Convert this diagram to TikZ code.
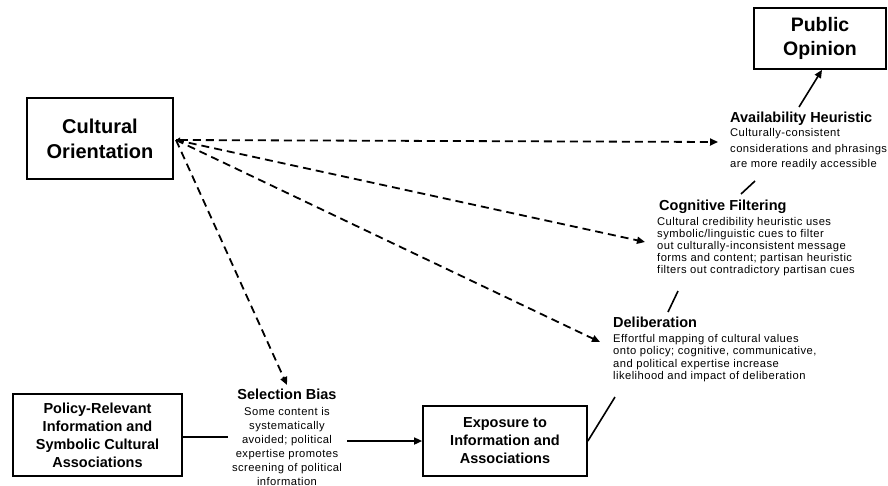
\documentclass[tikz,border=0pt]{standalone}
\usepackage{fontspec}
\setmainfont{Liberation Sans}
\newfontfamily\bodyf[LetterSpace=4]{Liberation Sans}
\usetikzlibrary{arrows.meta}
\begin{document}
\begin{tikzpicture}[x=1pt,y=-1pt,
  box/.style={draw,line width=1.7pt,inner sep=0pt,align=center},
  boxtext/.style={font=\fontsize{14.5}{18}\selectfont\bfseries},
  head/.style={inner sep=0pt,anchor=base west,font=\fontsize{14.5}{16}\selectfont\bfseries},
  bodytext/.style={inner sep=0pt,anchor=north west,align=left},
  conn/.style={line width=1.6pt},
  tip/.style={-{Triangle[length=8pt,width=7pt]}},
  dashln/.style={line width=1.8pt,dash pattern=on 8pt off 5pt,-{Triangle[length=8pt,width=7pt]}}
]
\path[use as bounding box] (0,0) rectangle (888,485);

% boxes
\node[box,minimum width=146pt,minimum height=81pt,font=\fontsize{20}{25}\selectfont\bfseries] (co) at (100,138.5) {Cultural\\Orientation};
\node[box,minimum width=132pt,minimum height=61pt,font=\fontsize{19.5}{24}\selectfont\bfseries] (po) at (820,38.5) {Public\\Opinion};
\node[box,boxtext,minimum width=169pt,minimum height=82pt] (pr) at (97.5,435) {Policy-Relevant\\Information and\\Symbolic Cultural\\Associations};
\node[box,boxtext,minimum width=164pt,minimum height=70pt] (ex) at (505,441) {Exposure to\\Information and\\Associations};

% Availability
\node[head] (avh) at (730,122) {Availability Heuristic};
\node[bodytext,font=\bodyf\fontsize{11.2}{15.5}\selectfont] (avb) at (730,128.5) {Culturally-consistent\\considerations and phrasings\\are more readily accessible};

% Cognitive filtering
\node[head] (cfh) at (659,210) {Cognitive Filtering};
\node[bodytext,font=\bodyf\fontsize{11.2}{12}\selectfont] (cfb) at (657,217.5) {Cultural credibility heuristic uses\\symbolic/linguistic cues to filter\\out culturally-inconsistent message\\forms and content; partisan heuristic\\filters out contradictory partisan cues};

% Deliberation
\node[head] (dlh) at (613,327) {Deliberation};
\node[bodytext,font=\bodyf\fontsize{11.2}{12.5}\selectfont] (dlb) at (613,334) {Effortful mapping of cultural values\\onto policy; cognitive, communicative,\\and political expertise increase\\likelihood and impact of deliberation};

% Selection bias
\node[inner sep=0pt,anchor=base,font=\fontsize{14.5}{16}\selectfont\bfseries] (sbh) at (287,399.5) {Selection Bias};
\node[inner sep=0pt,anchor=north,align=center,font=\bodyf\fontsize{11.2}{14}\selectfont] (sbb) at (287,407.5) {Some content is\\systematically\\avoided; political\\expertise promotes\\screening of political\\information};

% coordinates for free ends
\coordinate (o) at (176,140);
\coordinate (tav) at (718,142);
\coordinate (tcf) at (645,242);
\coordinate (tdl) at (600,342);
\coordinate (tsb) at (287,385);
\coordinate (sbl) at (228,437);
\coordinate (sbr) at (347,441);
\coordinate (d1) at (615,397);
\coordinate (c1) at (668,312);
\coordinate (c2) at (678,291);
\coordinate (a1) at (741,194);
\coordinate (a2) at (755,181);
\coordinate (ah) at (799,107);

% dashed influences
\draw[dashln,{Triangle[length=4pt,width=5pt]}-{Triangle[length=8pt,width=7pt]}] (o) -- (tav);
\draw[dashln] (o) -- (tcf);
\draw[dashln] (o) -- (tdl);
\draw[dashln] (o) -- (tsb);

% solid path
\draw[conn] (sbl -| pr.east) -- (sbl);
\draw[conn,tip] (sbr) -- (sbr -| ex.west);
\draw[conn] (ex.east) -- (d1);
\draw[conn] (c1) -- (c2);
\draw[conn] (a1) -- (a2);
\draw[conn,tip] (ah) -- ([xshift=2pt]po.south);
\end{tikzpicture}
\end{document}
